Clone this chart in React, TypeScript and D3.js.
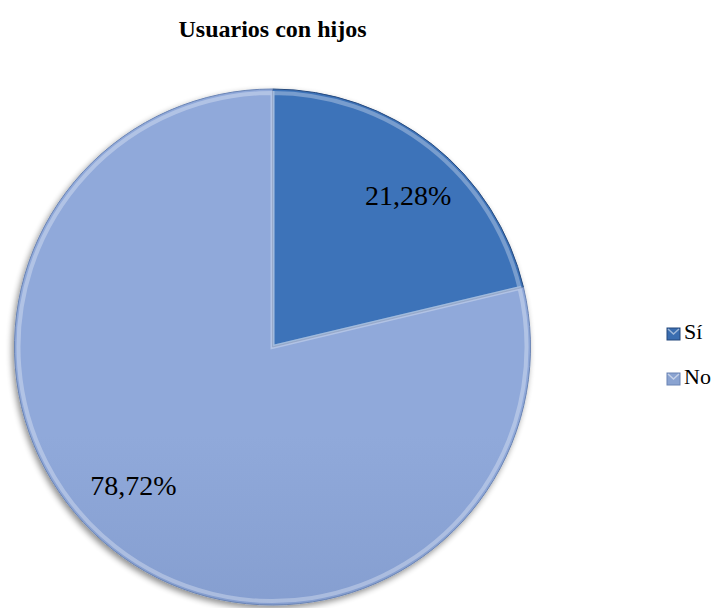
import React from "react";
import * as d3 from "d3";

const categories = ["Sí", "No"];
const values = [21.28, 78.72];
const labels = ["21,28%", "78,72%"];
const title = "Usuarios con hijos";

const W = 727;
const H = 608;
const cx = 272.5;
const cy = 347;
const R = 258;

const FONT = "'Liberation Serif', 'Times New Roman', serif";

const topCol = ["#3e73b9", "#90a9da"];
const botCol = ["#2b5a97", "#7089bc"];
const edge = ["#25497d", "#6a84b4"];
const legendFill = ["#3a6db0", "#8aa3d1"];

export default function App() {
  const pie = d3.pie<number>().sort(null).value((d) => d)(values);
  const arc = d3.arc<d3.PieArcDatum<number>>().innerRadius(0).outerRadius(R);
  const bevel = d3.arc<d3.PieArcDatum<number>>().innerRadius(0).outerRadius(R - 4);
  const labelPos: [number, number][] = pie.map((p, i) => {
    const a = (p.startAngle + p.endAngle) / 2 + (i === 0 ? 0.06 : 0.12);
    const r = R * (i === 0 ? 0.79 : 0.76);
    return [Math.sin(a) * r, -Math.cos(a) * r];
  });

  return (
    <div style={{ position: "absolute", left: 0, top: 0 }}>
      <svg width={W} height={H} style={{ display: "block" }}>
        <defs>
          {topCol.map((f, i) => (
            <linearGradient key={i} id={`g${i}`} x1={0} y1={cy - R} x2={0} y2={i === 0 ? cy + 30 : cy + R} gradientUnits="userSpaceOnUse">
              <stop offset="0%" stopColor={topCol[i]} />
              <stop offset="100%" stopColor={botCol[i]} />
            </linearGradient>
          ))}
          <filter id="sh" x="-20%" y="-20%" width="140%" height="140%">
            <feGaussianBlur in="SourceAlpha" stdDeviation="3" />
            <feOffset dx="-2" dy="3" result="b" />
            <feComponentTransfer>
              <feFuncA type="linear" slope="0.45" />
            </feComponentTransfer>
            <feMerge>
              <feMergeNode />
              <feMergeNode in="SourceGraphic" />
            </feMerge>
          </filter>
        </defs>
        <text x={cx} y={37} textAnchor="middle" fontSize={24} fontWeight="bold" fill="#000" fontFamily={FONT}>
          {title}
        </text>
        <g transform={`translate(${cx},${cy})`} filter="url(#sh)">
          {pie.map((p, i) => (
            <g key={i}>
              <path d={arc(p) || ""} fill={`url(#g${i})`} stroke={edge[i]} strokeWidth={1} transform={`translate(0,0)`} style={{}} />
              <path d={bevel(p) || ""} fill="none" stroke="#ffffff" strokeOpacity={0.3} strokeWidth={4} />
            </g>
          ))}
        </g>
        <g transform={`translate(${cx},${cy})`}>
          {pie.map((p, i) => (
            <text key={i} x={labelPos[i][0]} y={labelPos[i][1]} textAnchor="middle" dy="0.35em" fontSize={28} fill="#000" fontFamily={FONT}>
              {labels[i]}
            </text>
          ))}
        </g>
        <g>
          {categories.map((c, i) => (
            <g key={c} transform={`translate(667,${328 + i * 45})`}>
              <rect width={13} height={12} fill={legendFill[i]} stroke={edge[i]} strokeWidth={1} />
              <path d="M1,1 L6.5,6 L12,1" fill="none" stroke="#ffffff" strokeOpacity={0.5} strokeWidth={1.5} />
              <text x={17} y={11} fontSize={22} fill="#000" fontFamily={FONT}>
                {c}
              </text>
            </g>
          ))}
        </g>
      </svg>
    </div>
  );
}
